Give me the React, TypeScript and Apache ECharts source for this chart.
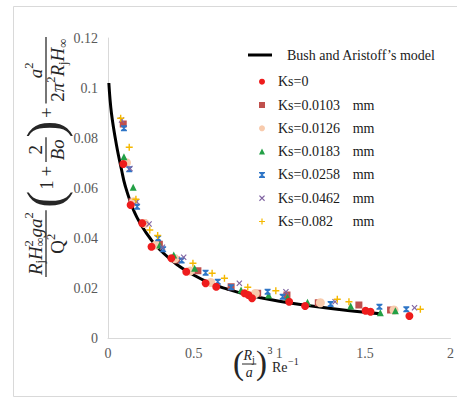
import React, { useEffect, useRef } from 'react';
import * as echarts from 'echarts';

// ---- data ----
const modelX = [0.005, 0.02, 0.05, 0.08, 0.1, 0.15, 0.2, 0.25, 0.3, 0.4, 0.5, 0.6, 0.7, 0.8, 0.9, 1.0, 1.2, 1.4, 1.59];
const modelY = [0.102, 0.09, 0.077, 0.067, 0.061, 0.051, 0.0445, 0.0395, 0.0355, 0.0295, 0.0252, 0.0218, 0.0195, 0.0175, 0.016, 0.0147, 0.0127, 0.011, 0.0097];

const ks0 = [[0.089, 0.0696], [0.132, 0.0532], [0.2, 0.0459], [0.254, 0.0365], [0.37, 0.0319], [0.457, 0.0265], [0.57, 0.0219], [0.632, 0.0205], [0.797, 0.0179], [0.82, 0.0172], [0.841, 0.0159], [1.058, 0.0145], [1.151, 0.0128], [1.504, 0.0109], [1.533, 0.0105], [1.76, 0.0088]];
const ks0103 = [[0.089, 0.0856], [0.14, 0.0545], [0.205, 0.046], [0.3, 0.0375], [0.4, 0.0312], [0.525, 0.0269], [0.719, 0.0205], [0.874, 0.0179], [1.045, 0.0172], [1.228, 0.0141], [1.465, 0.0132], [1.65, 0.0112]];
const ks0126 = [[0.108, 0.0701], [0.15, 0.0545], [0.215, 0.0458], [0.28, 0.0372], [0.39, 0.0318], [0.48, 0.0268], [0.6, 0.0222], [0.86, 0.0178], [1.24, 0.0141], [1.67, 0.0112]];
const ks0183 = [[0.093, 0.0725], [0.147, 0.0603], [0.302, 0.0372], [0.384, 0.0332], [0.506, 0.0279], [0.777, 0.0192], [0.938, 0.0172], [1.048, 0.0163], [1.165, 0.0143], [1.417, 0.0128], [1.59, 0.0101], [1.678, 0.0109]];
const ks0258 = [[0.093, 0.0839], [0.124, 0.0675], [0.17, 0.0525], [0.293, 0.0399], [0.322, 0.0355], [0.43, 0.031], [0.57, 0.0261], [0.641, 0.0225], [0.719, 0.0203], [0.932, 0.0185], [1.02, 0.0165], [1.3, 0.0136], [1.585, 0.0125], [1.742, 0.0115]];
const ks0462 = [[0.079, 0.0872], [0.128, 0.0678], [0.167, 0.0545], [0.24, 0.0456], [0.318, 0.0363], [0.442, 0.0323], [0.767, 0.0219], [1.039, 0.0185], [1.326, 0.0145], [1.79, 0.0121]];
const ks082 = [[0.074, 0.0879], [0.124, 0.0763], [0.163, 0.0555], [0.244, 0.0432], [0.29, 0.041], [0.496, 0.0299], [0.608, 0.0259], [0.68, 0.0239], [0.816, 0.0203], [0.98, 0.0189], [1.339, 0.0155], [1.407, 0.0145], [1.824, 0.0115]];

const modelName = 'Bush and Aristoff\u2019s model';
const seriesNames = ['Ks=0', 'Ks=0.0103 mm', 'Ks=0.0126 mm', 'Ks=0.0183 mm', 'Ks=0.0258 mm', 'Ks=0.0462 mm', 'Ks=0.082 mm'];
const seriesData = [ks0, ks0103, ks0126, ks0183, ks0258, ks0462, ks082];

// ---- styling ----
const FF = 'Liberation Serif, serif';
const INK = '#262626';
const colors = ['#EE1C1C', '#C0504D', '#F8CBAD', '#23A046', '#2E75C6', '#8064A2', '#F5B800'];
const symbols = [
  'circle',
  'rect',
  'circle',
  'triangle',
  'path://M0,0H10V2L6,5L10,8V10H0V8L4,5L0,2Z',
  'path://M0,1.4L1.4,0L5,3.6L8.6,0L10,1.4L6.4,5L10,8.6L8.6,10L5,6.4L1.4,10L0,8.6L3.6,5Z',
  'path://M4,0H6V4H10V6H6V10H4V6H0V4H4Z',
];
const sizes = [8, 7, 9, 7, 6, 6, 7];

let _ctx: CanvasRenderingContext2D | null = null;
function tw(t: string, s: number, it?: boolean) {
  if (!_ctx) _ctx = document.createElement('canvas').getContext('2d');
  _ctx!.font = `${it ? 'italic ' : ''}${s}px ${FF}`;
  return _ctx!.measureText(t).width;
}
type P = { t: string; s: number; it?: boolean; dy?: number; stack?: boolean; gap?: number };
function txt(t: string, x: number, y: number, s: number, it?: boolean) {
  return {
    type: 'text', x, y, silent: true,
    style: {
      text: t, fontSize: s, fontFamily: FF, fontStyle: it ? 'italic' : 'normal', fill: INK,
      align: 'left', textAlign: 'left', verticalAlign: 'middle', textVerticalAlign: 'middle',
    },
  };
}
function rowWidth(ps: P[]) {
  let x = 0; let sw = 0;
  for (const p of ps) {
    const w = tw(p.t, p.s, p.it) + (p.gap || 0);
    if (p.stack) sw = Math.max(sw, w); else { x += Math.max(sw, w); sw = 0; }
  }
  return x;
}
function row(ps: P[], x0: number, y0: number) {
  const els: any[] = []; let x = x0; let sw = 0;
  for (const p of ps) {
    const w = tw(p.t, p.s, p.it) + (p.gap || 0);
    els.push(txt(p.t, x + (p.gap || 0), y0 + (p.dy || 0), p.s, p.it));
    if (p.stack) sw = Math.max(sw, w); else { x += Math.max(sw, w); sw = 0; }
  }
  return { els, w: x - x0 };
}
function frac(num: P[], den: P[], x0: number, y0: number, fs: number) {
  const nw = rowWidth(num); const dw = rowWidth(den); const W = Math.max(nw, dw) + 3;
  const a = row(num, x0 + (W - nw) / 2, y0 - fs * 0.58);
  const b = row(den, x0 + (W - dw) / 2, y0 + fs * 0.62);
  return {
    els: [...a.els, ...b.els, { type: 'line', silent: true, shape: { x1: x0, y1: y0, x2: x0 + W, y2: y0 }, style: { stroke: INK, lineWidth: 1 } }],
    w: W,
  };
}

function buildYName() {
  const F = 15; const S = 10;
  const els: any[] = []; let x = 0;
  const push = (r: { els: any[]; w: number }) => { els.push(...r.els); x += r.w; };
  push(frac(
    [{ t: 'R', s: F, it: true }, { t: 'j', s: S, dy: 4 }, { t: 'H', s: F, it: true }, { t: '2', s: S, dy: -5, stack: true }, { t: '\u221e', s: S, dy: 4 }, { t: 'g', s: F, it: true }, { t: 'a', s: F, it: true }, { t: '2', s: S, dy: -5 }],
    [{ t: 'Q', s: F }, { t: '2', s: S, dy: -5 }], x, 0, F));
  push(row([{ t: '(', s: 40, gap: 2 }], x, -1));
  push(row([{ t: '1', s: F, gap: 1 }, { t: '+', s: F, gap: 3 }], x, 0));
  x += 3;
  push(frac([{ t: '2', s: F }], [{ t: 'Bo', s: F, it: true }], x, 0, F));
  push(row([{ t: ')', s: 40 }], x, -1));
  push(row([{ t: '+', s: F, gap: 2 }], x, 0));
  x += 3;
  push(frac(
    [{ t: 'a', s: F, it: true }, { t: '2', s: S, dy: -5 }],
    [{ t: '2', s: F }, { t: '\u03c0', s: F, it: true }, { t: '2', s: S, dy: -5 }, { t: 'R', s: F, it: true }, { t: 'j', s: S, dy: 4 }, { t: 'H', s: F, it: true }, { t: '\u221e', s: S, dy: 4 }], x, 0, F));
  const k = 240 / x;
  return { type: 'group', x: 46, y: 277, rotation: Math.PI / 2, scaleX: k, scaleY: k, silent: true, children: els };
}

function buildXName() {
  const els: any[] = [];
  els.push(...row([{ t: '(', s: 33 }], 233, 363).els);
  els.push(...frac([{ t: 'R', s: 14, it: true }, { t: 'j', s: 10, dy: 4 }], [{ t: 'a', s: 14, it: true }], 242, 364, 14).els);
  els.push(...row([{ t: ')', s: 33 }], 256, 363).els);
  els.push(...row([{ t: '3', s: 10 }], 267.5, 350).els);
  els.push(...row([{ t: 'Re', s: 14 }], 272, 367).els);
  els.push(...row([{ t: '\u22121', s: 10 }], 272.5 + tw('Re', 14), 361).els);
  return { type: 'group', silent: true, children: els };
}

export default function App() {
  const ref = useRef<HTMLDivElement>(null);
  useEffect(() => {
    const chart = echarts.init(ref.current!, undefined, { renderer: 'svg' });
    const legendText = { fontFamily: FF, fontSize: 14, color: '#1a1a1a', lineHeight: 16 };
    chart.setOption({
      animation: false,
      backgroundColor: '#fff',
      textStyle: { fontFamily: FF },
      grid: { left: 108, right: 5, top: 38, bottom: 61, containLabel: false },
      xAxis: {
        type: 'value', min: 0, max: 2, interval: 0.5,
        axisLine: { show: true, lineStyle: { color: '#D9D9D9', width: 1 } },
        axisTick: { show: false }, splitLine: { show: false },
        axisLabel: { margin: 9, lineHeight: 12, fontFamily: FF, fontSize: 14, color: '#595959', formatter: (v: number) => String(v) },
      },
      yAxis: {
        type: 'value', min: 0, max: 0.12, interval: 0.02,
        axisLine: { show: true, lineStyle: { color: '#D9D9D9', width: 1 } },
        axisTick: { show: false }, splitLine: { show: false },
        axisLabel: { margin: 10, fontFamily: FF, fontSize: 14, color: '#595959', formatter: (v: number) => String(Math.round(v * 100) / 100) },
      },
      legend: [
        {
          data: [{ name: modelName, icon: 'rect' }], left: 248, top: 47, padding: 0,
          itemWidth: 24, itemHeight: 3, selectedMode: false,
          textStyle: { ...legendText, rich: { sp: { width: 10 } } },
          formatter: (n: string) => `{sp| }${n}`,
        },
        {
          data: seriesNames, orient: 'vertical', left: 259, top: 73.7, padding: 0,
          itemWidth: 6, itemHeight: 6, itemGap: 7.3, selectedMode: false,
          textStyle: {
            ...legendText,
            rich: {
              sp: { width: 8 },
              a: { width: 74.7, fontFamily: FF, fontSize: 14, color: '#1a1a1a' },
              b: { fontFamily: FF, fontSize: 14, color: '#1a1a1a' },
            },
          },
          formatter: (n: string) => {
            const [a, b] = n.split(' ');
            return b ? `{sp| }{a|${a}}{b|${b}}` : `{sp| }{a|${a}}`;
          },
        },
      ],
      graphic: [
        { type: 'rect', silent: true, shape: { x: 13.5, y: 6.5, width: 460, height: 390 }, style: { fill: 'none', stroke: '#D9D9D9', lineWidth: 1 } },
        buildYName(),
        buildXName(),
      ],
      series: [
        {
          name: modelName, type: 'line', smooth: 0.4, showSymbol: false, symbol: 'none',
          data: modelX.map((x, i) => [x, modelY[i]]),
          lineStyle: { color: '#000', width: 3 }, itemStyle: { color: '#000' }, z: 3,
        },
        ...seriesNames.map((name, i) => ({
          name, type: 'scatter', data: seriesData[i], symbol: symbols[i], symbolSize: sizes[i],
          itemStyle: { color: colors[i], opacity: 1 }, z: 4 + (i === 0 ? 6 : i),
        })),
      ],
    });
    return () => chart.dispose();
  }, []);
  return <div ref={ref} style={{ position: 'fixed', left: 0, top: 0, width: 457, height: 399 }} />;
}
